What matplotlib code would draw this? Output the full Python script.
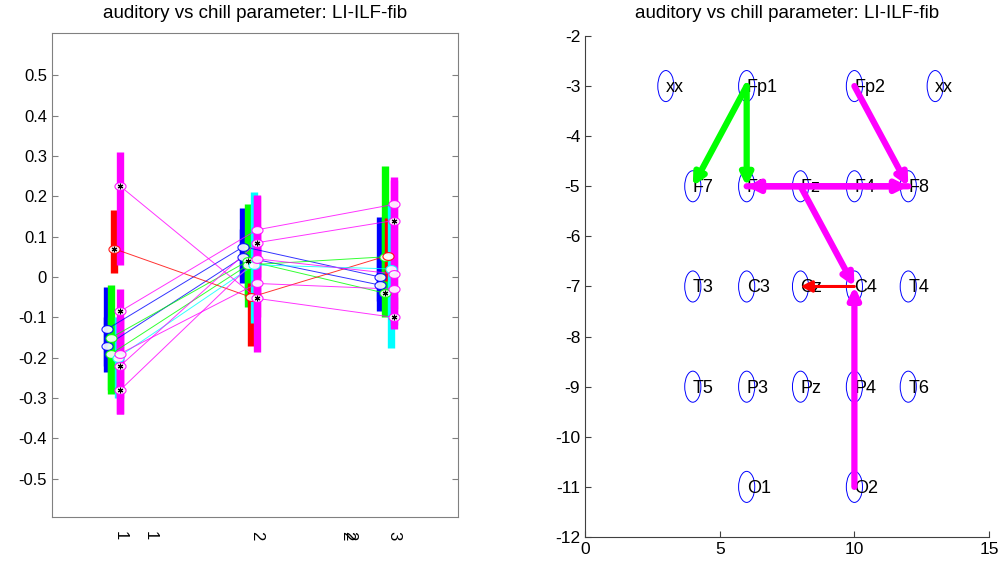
import numpy as np
import matplotlib
matplotlib.use("Agg")
import matplotlib.pyplot as plt
from matplotlib.patches import Ellipse

plt.rcParams['font.family'] = ['Liberation Sans', 'DejaVu Sans']
plt.rcParams['axes.unicode_minus'] = False

title = "auditory vs chill parameter: LI-ILF-fib"

# ---- left panel data: means at conditions 1,2,3 with low/high bar ends ----
conditions = [1, 2, 3]

blue_means = [[-0.13, 0.075, 0.0], [-0.17, 0.05, -0.02]]
blue_lo = [[-0.236, -0.014, -0.085], [-0.22, 0.0, -0.06]]
blue_hi = [[-0.024, 0.172, 0.15], [-0.10, 0.12, 0.05]]
blue_sig = [[0, 0, 0], [0, 0, 0]]

green_means = [[-0.15, 0.04, -0.04], [-0.19, 0.03, 0.05]]
green_lo = [[-0.29, -0.075, -0.10], [-0.28, -0.05, 0.0]]
green_hi = [[-0.02, 0.18, 0.275], [-0.10, 0.10, 0.15]]
green_sig = [[0, 1, 1], [0, 0, 0]]

red_means = [[0.07, -0.05, 0.053]]
red_lo = [[0.01, -0.17, -0.01]]
red_hi = [[0.165, -0.014, 0.147]]
red_sig = [[1, 0, 0]]

cyan_means = [[-0.20, 0.03, 0.02]]
cyan_lo = [[-0.30, -0.115, -0.175]]
cyan_hi = [[-0.10, 0.21, 0.18]]
cyan_sig = [[0, 0, 0]]

magenta_means = [[0.225, -0.053, -0.10],
                 [-0.085, 0.117, 0.18],
                 [-0.22, 0.085, 0.14],
                 [-0.28, 0.045, 0.008],
                 [-0.19, -0.016, -0.03]]
magenta_lo = [[0.03, -0.186, -0.13],
              [-0.20, 0.03, 0.10],
              [-0.34, 0.0, 0.05],
              [-0.34, -0.05, -0.08],
              [-0.30, -0.10, -0.12]]
magenta_hi = [[0.31, 0.08, -0.05],
              [-0.03, 0.20, 0.24],
              [-0.10, 0.204, 0.248],
              [-0.20, 0.12, 0.10],
              [-0.10, 0.07, 0.05]]
magenta_sig = [[1, 1, 1], [1, 0, 0], [1, 1, 1], [1, 0, 0], [0, 0, 0]]

xtick_pos = [1, 1.22, 2, 2.655, 2.675, 3]
xtick_labels = ['1', '1', '2', '2', '2', '3']

# ---- right panel data: electrode grid and arrows ----
electrodes = ['xx', 'Fp1', 'Fp2', 'xx',
              'F7', 'F3', 'Fz', 'F4', 'F8',
              'T3', 'C3', 'Cz', 'C4', 'T4',
              'T5', 'P3', 'Pz', 'P4', 'T6',
              'O1', 'O2']
elec_x = [3, 6, 10, 13,
          4, 6, 8, 10, 12,
          4, 6, 8, 10, 12,
          4, 6, 8, 10, 12,
          6, 10]
elec_y = [-3, -3, -3, -3,
          -5, -5, -5, -5, -5,
          -7, -7, -7, -7, -7,
          -9, -9, -9, -9, -9,
          -11, -11]

arrow_from = ['Fp1', 'Fp1', 'Fp2', 'F3', 'F8', 'Fz', 'O2', 'C4']
arrow_to = ['F7', 'F3', 'F8', 'F8', 'F3', 'C4', 'C4', 'Cz']
arrow_color = ['#00ff00', '#00ff00', '#ff00ff', '#ff00ff', '#ff00ff',
               '#ff00ff', '#ff00ff', '#ff0000']
arrow_width = [4.5, 4.5, 4.5, 4.5, 4.5, 4.5, 4.5, 2.2]

fig = plt.figure(figsize=(10.07, 5.62), dpi=100)

# elliptical marker, a bit wider than tall like the original
t = np.linspace(0, 2 * np.pi, 40)
oval = np.column_stack([np.cos(t), 0.7 * np.sin(t)])

# ================= left panel =================
ax1 = fig.add_axes([0.0516, 0.0801, 0.4032, 0.8612])

groups = [
    ('#0000ff', -0.10, blue_means, blue_lo, blue_hi, blue_sig),
    ('#00ff00', -0.065, green_means, green_lo, green_hi, green_sig),
    ('#ff0000', -0.045, red_means, red_lo, red_hi, red_sig),
    ('#00ffff', -0.02, cyan_means, cyan_lo, cyan_hi, cyan_sig),
    ('#ff00ff', 0.0, magenta_means, magenta_lo, magenta_hi, magenta_sig),
]

for col, off, means, lo, hi, sig in groups:
    for m, l, h in zip(means, lo, hi):
        xs = np.array(conditions) + off
        ax1.vlines(xs, l, h, colors=col, linewidth=5.3, zorder=2)

for col, off, means, lo, hi, sig in groups:
    for m, s in zip(means, sig):
        xs = np.array(conditions) + off
        ax1.plot(xs, m, color=col, linewidth=0.7, alpha=0.8, zorder=3)
        ax1.plot(xs, m, linestyle='none', marker=oval, markersize=8,
                 markerfacecolor='white', markeredgecolor=col,
                 markeredgewidth=0.8, alpha=0.9, zorder=4)
        s = np.array(s, dtype=bool)
        ax1.plot(xs[s], np.array(m)[s], linestyle='none', marker=(6, 2, 0),
                 markersize=4, color='black', markeredgewidth=0.8, zorder=5)

ax1.set_xlim(0.5, 3.47)
ax1.set_ylim(-0.595, 0.605)
yt = [0.5, 0.4, 0.3, 0.2, 0.1, 0, -0.1, -0.2, -0.3, -0.4, -0.5]
ax1.set_yticks(yt)
ax1.set_yticklabels(['0.5', '0.4', '0.3', '0.2', '0.1', '0', '-0.1', '-0.2',
                     '-0.3', '-0.4', '-0.5'], fontsize=12)
ax1.set_xticks(xtick_pos)
ax1.set_xticklabels(xtick_labels, rotation=270, fontsize=12)
ax1.tick_params(axis='y', direction='in', length=4, right=True, color='#808080')
ax1.tick_params(axis='x', length=0, pad=10)
for sp in ax1.spines.values():
    sp.set_color('#808080')
ax1.set_title(title, fontsize=13.5, pad=11)

# ================= right panel =================
ax2 = fig.add_axes([0.581, 0.0445, 0.4012, 0.8915])
ax2.set_xlim(0, 15)
ax2.set_ylim(-12, -2)

for name, x, y in zip(electrodes, elec_x, elec_y):
    ax2.add_patch(Ellipse((x, y), 0.6, 0.62, fill=False, edgecolor='#0000ff',
                          linewidth=0.7, zorder=1))
    ax2.text(x, y - 0.03, name, fontsize=13, ha='left', va='center', zorder=2)

pos = {n: (x, y) for n, x, y in zip(electrodes, elec_x, elec_y)}
for a, b, col, w in zip(arrow_from, arrow_to, arrow_color, arrow_width):
    ax2.annotate('', xy=pos[b], xytext=pos[a],
                 arrowprops=dict(arrowstyle='-|>', color=col, linewidth=w,
                                 mutation_scale=17, shrinkA=0, shrinkB=0),
                 zorder=3)

ax2.set_xticks([0, 5, 10, 15])
ax2.set_yticks(range(-12, -1))
ax2.tick_params(direction='in', length=4, labelsize=12.5, color='#404040')
ax2.spines['top'].set_visible(False)
ax2.spines['right'].set_visible(False)
ax2.spines['left'].set_color('#404040')
ax2.spines['bottom'].set_color('#404040')
ax2.set_title(title, fontsize=13.5, pad=13)

fig.savefig('out.png', dpi=100)
